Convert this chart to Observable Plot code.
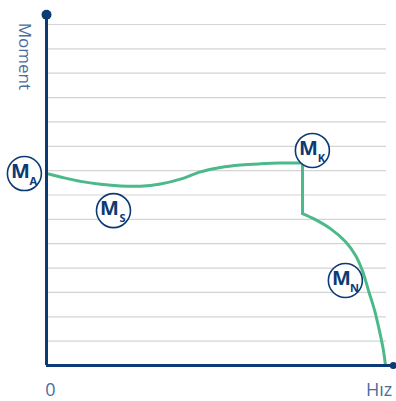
<!DOCTYPE html>
<html>
<head>
<meta charset="utf-8">
<script src="https://cdn.jsdelivr.net/npm/d3@7"></script>
<script src="https://cdn.jsdelivr.net/npm/@observablehq/plot@0.6"></script>
<style>
  html, body { margin: 0; padding: 0; background: #fff; }
  #chart svg { display: block; }
</style>
</head>
<body>
<div id="chart"></div>
<script>
// Torque–speed curve (x: speed 0..100, y: torque 0..14 grid units)
const curveX = [0, 4.1, 10, 15.9, 21.8, 27.6, 33.5, 39.4, 45.3, 51.2, 57.1, 62.9, 68.8, 75.3,
                75.3, 75.3,
                75.3, 79.1, 83.5, 87.9, 90.9, 92.9, 94.7, 96.5, 97.9, 99.1, 99.7];
const curveY = [7.88, 7.74, 7.56, 7.44, 7.37, 7.36, 7.45, 7.65, 7.95, 8.13, 8.23, 8.28, 8.31, 8.31,
                8.31, 6.24,
                6.24, 5.99, 5.62, 5.09, 4.52, 3.90, 3.08, 2.26, 1.44, 0.62, 0];
const curveSeg = ["a","a","a","a","a","a","a","a","a","a","a","a","a","a",
                  "b","b",
                  "c","c","c","c","c","c","c","c","c","c","c"];

const gridTicks = [1, 2, 3, 4, 5, 6, 7, 8, 9, 10, 11, 12, 13, 14];

const labelMain = ["M", "M", "M", "M"];
const labelSub = ["A", "S", "K", "N"];
const labelX = [-6.5, 19.7, 78.2, 87.9];
const labelY = [7.88, 6.36, 8.83, 3.49];

const yAxisTitle = "Moment";
const xStartLabel = "0";
const xEndLabel = "Hız";

const navy = "#0b3a75";
const textBlue = "#4a6d9b";
const green = "#4cb98b";
const grid = "#d4d4d4";

const curve = curveX.map((x, i) => ({x, y: curveY[i], seg: curveSeg[i]}));
const labels = labelMain.map((m, i) => ({m, s: labelSub[i], x: labelX[i], y: labelY[i]}));

const chart = Plot.plot({
  width: 396,
  height: 401,
  marginLeft: 46,
  marginRight: 10,
  marginTop: 24,
  marginBottom: 36,
  x: {domain: [0, 100], axis: null},
  y: {domain: [0, 14], axis: null},
  style: {fontFamily: "'Open Sans', sans-serif", background: "#fff", overflow: "visible"},
  marks: [
    Plot.ruleY(gridTicks, {y: d => d, x1: 0, x2: 100, stroke: grid, strokeWidth: 1.2}),
    Plot.line(curve, {x: "x", y: "y", z: "seg", stroke: green, strokeWidth: 3, curve: "catmull-rom"}),
    Plot.ruleX([0], {x: d => d, y1: 0, y2: 14.4, stroke: navy, strokeWidth: 3}),
    Plot.ruleY([0], {y: d => d, x1: 0, x2: 102, stroke: navy, strokeWidth: 3}),
    Plot.dot([[0, 14.4]], {x: d => d[0], y: d => d[1], r: 5, fill: navy}),
    Plot.dot([[102, 0]], {x: d => d[0], y: d => d[1], r: 3.5, fill: navy}),
    Plot.dot(labels, {x: "x", y: "y", r: 17, fill: "white", stroke: navy, strokeWidth: 1.6}),
    Plot.text(labels, {x: "x", y: "y", text: "m", dx: -4, dy: -2, fill: navy, fontSize: 20, fontWeight: "bold"}),
    Plot.text(labels, {x: "x", y: "y", text: "s", dx: 9, dy: 8, fill: navy, fontSize: 11, fontWeight: "bold"}),
    Plot.text([yAxisTitle], {x: () => 0, y: () => 14.4, text: d => d, dx: -22, dy: 8, rotate: 90, textAnchor: "start", fill: textBlue, fontSize: 17}),
    Plot.text([xStartLabel], {x: () => 0, y: () => 0, text: d => d, dx: 4, dy: 25, fill: textBlue, fontSize: 18}),
    Plot.text([xEndLabel], {x: () => 102, y: () => 0, text: d => d, dx: -1, dy: 25, textAnchor: "end", fill: textBlue, fontSize: 18})
  ]
});
document.getElementById("chart").append(chart);
</script>
</body>
</html>
